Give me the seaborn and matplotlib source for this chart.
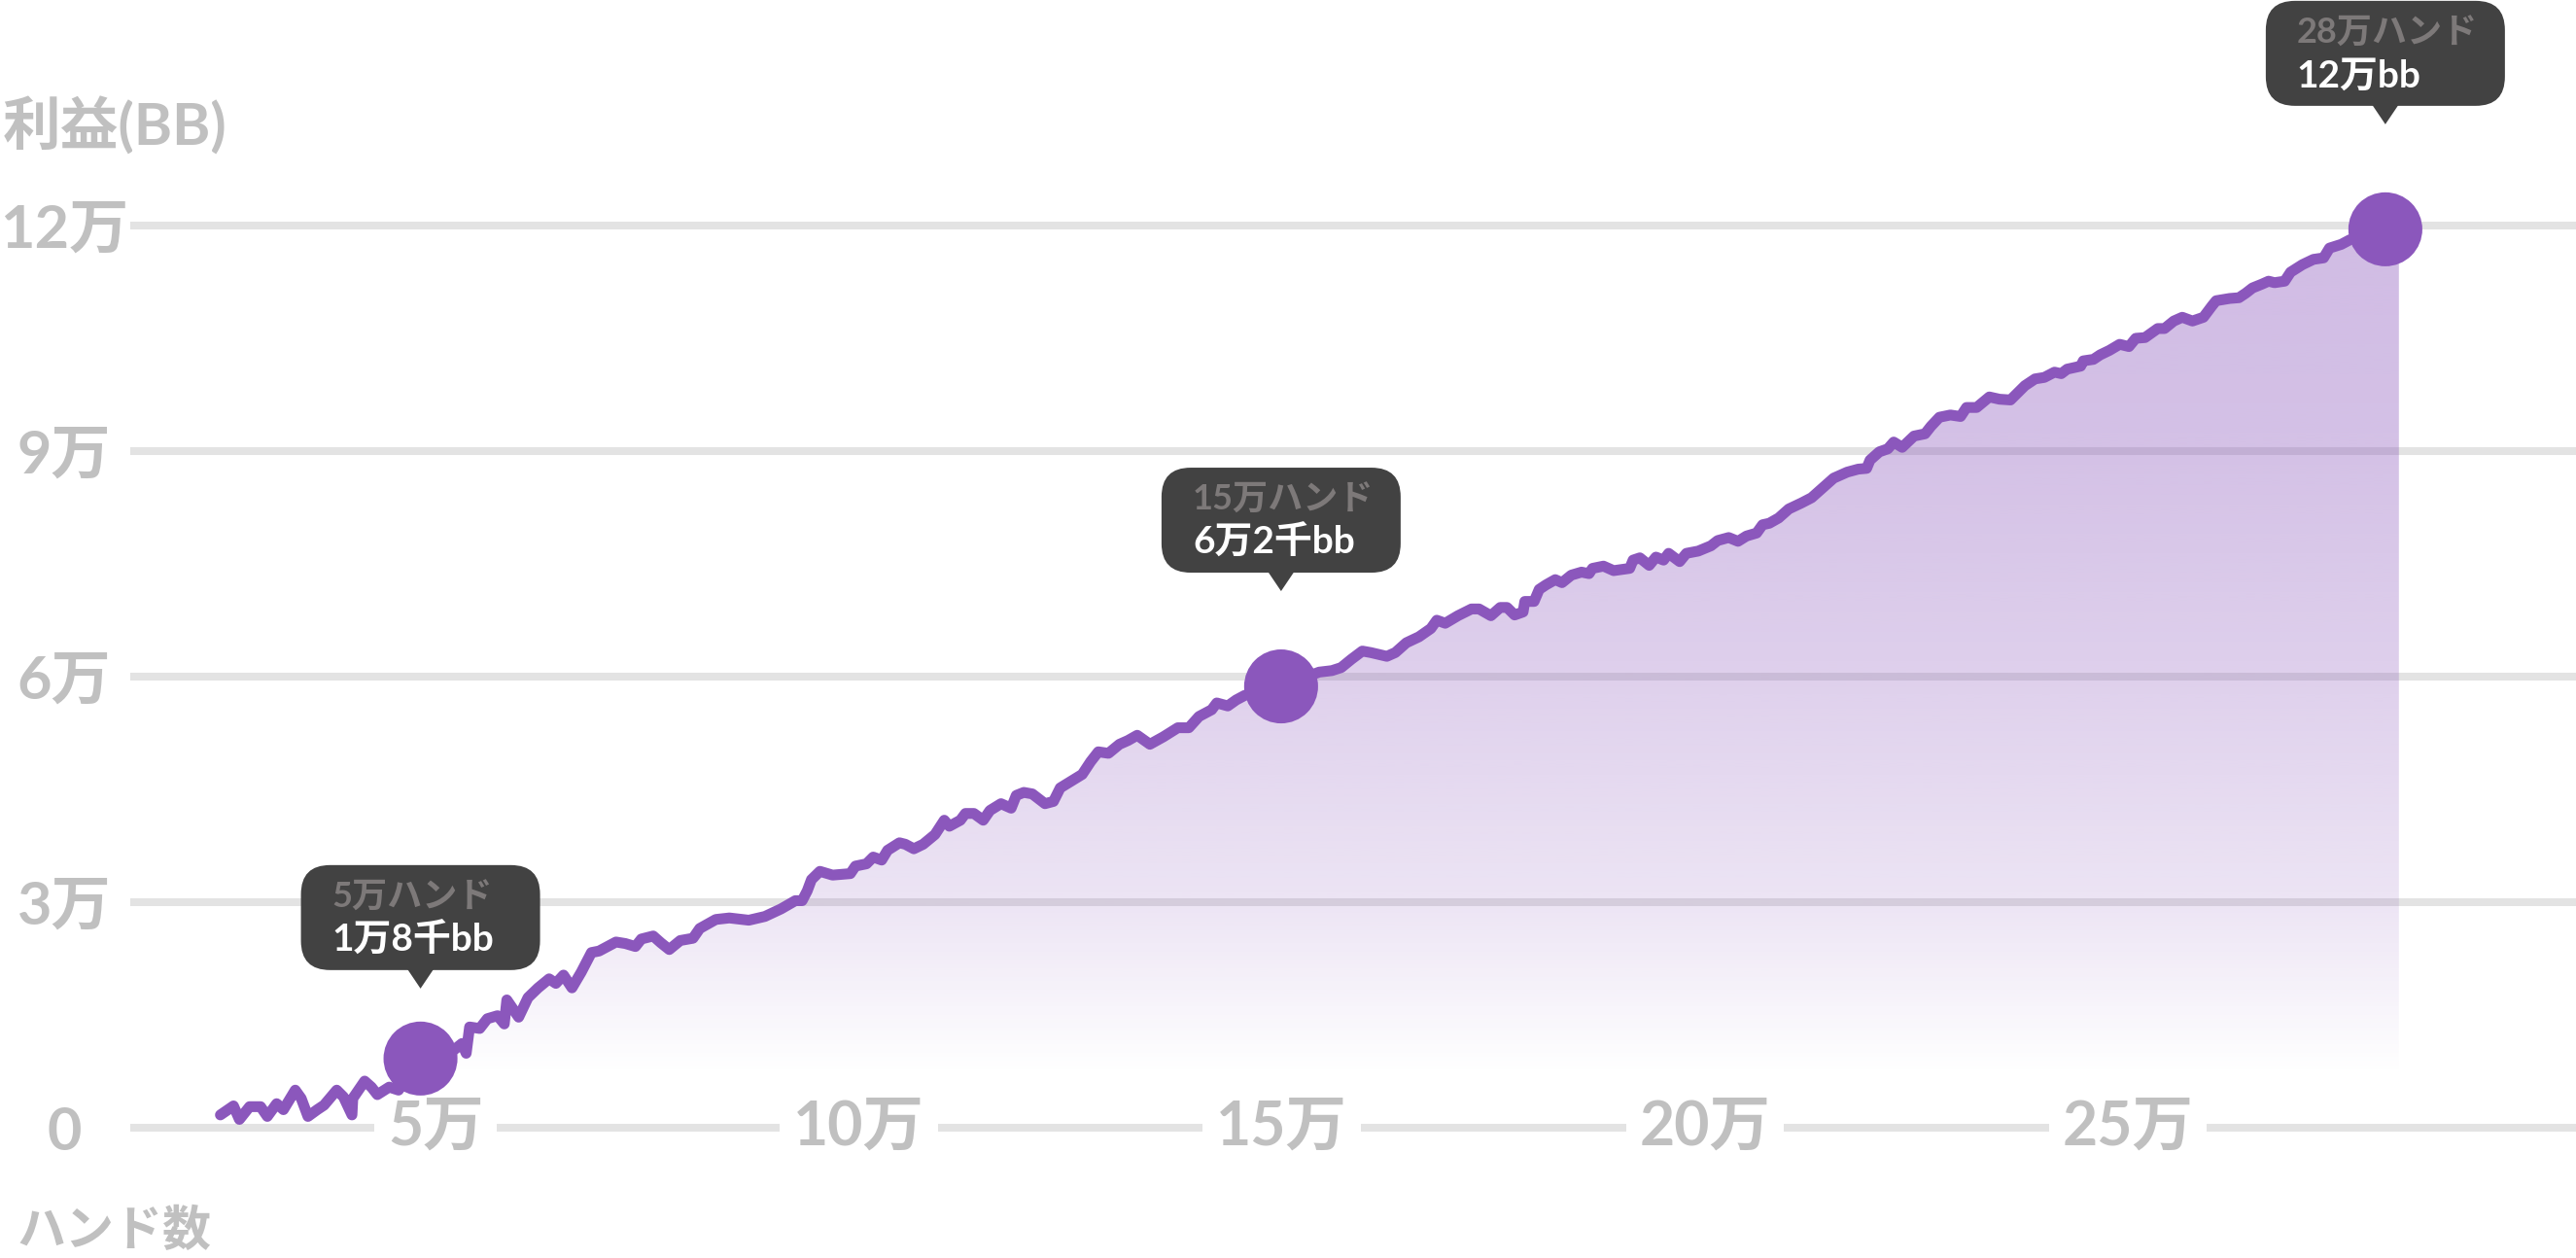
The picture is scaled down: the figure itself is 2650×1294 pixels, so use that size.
import numpy as np
import pandas as pd
import matplotlib
matplotlib.use("Agg")
import matplotlib.pyplot as plt
import seaborn as sns
from matplotlib.colors import to_rgb
from matplotlib.patches import FancyBboxPatch, Polygon

# values in units of 万 (10,000): hands played and profit in bb
hands = [
    2.455, 2.61, 2.68, 2.80, 2.93, 3.01, 3.12, 3.20, 3.34, 3.41,
    3.49, 3.60, 3.68, 3.83, 3.91, 4.01, 4.02, 4.16, 4.24, 4.31,
    4.45, 4.56, 4.82, 5.21, 5.31, 5.36, 5.40, 5.52, 5.61, 5.73,
    5.81, 5.84, 5.98, 6.09, 6.21, 6.34, 6.42, 6.51, 6.61, 6.72,
    6.84, 6.93, 7.13, 7.24, 7.36, 7.43, 7.57, 7.66, 7.76, 7.89,
    8.04, 8.12, 8.31, 8.47, 8.70, 8.89, 9.08, 9.25, 9.33, 9.39,
    9.44, 9.54, 9.69, 9.90, 9.96, 10.09, 10.17, 10.27, 10.34, 10.48,
    10.55, 10.65, 10.76, 10.90, 11.01, 11.07, 11.20, 11.26, 11.36, 11.47,
    11.55, 11.68, 11.80, 11.86, 11.95, 12.05, 12.20, 12.30, 12.38, 12.64,
    12.74, 12.83, 12.95, 13.08, 13.18, 13.29, 13.44, 13.60, 13.77, 13.90,
    14.02, 14.17, 14.23, 14.36, 14.46, 14.56, 14.99, 15.44, 15.59, 15.70,
    15.82, 15.95, 16.05, 16.24, 16.34, 16.47, 16.62, 16.76, 16.83, 16.93,
    17.08, 17.24, 17.33, 17.47, 17.58, 17.66, 17.75, 17.85, 17.87, 17.98,
    18.04, 18.12, 18.23, 18.31, 18.42, 18.54, 18.63, 18.67, 18.80, 18.92,
    19.11, 19.15, 19.23, 19.34, 19.42, 19.51, 19.57, 19.70, 19.78, 19.92,
    20.07, 20.15, 20.28, 20.39, 20.49, 20.61, 20.68, 20.76, 20.87, 20.99,
    21.14, 21.26, 21.37, 21.52, 21.68, 21.81, 21.91, 21.95, 22.06, 22.16,
    22.23, 22.33, 22.47, 22.60, 22.67, 22.77, 22.90, 23.02, 23.09, 23.21,
    23.36, 23.48, 23.61, 23.78, 23.90, 24.01, 24.13, 24.21, 24.28, 24.44,
    24.47, 24.59, 24.67, 24.78, 24.90, 25.01, 25.09, 25.20, 25.35, 25.43,
    25.54, 25.64, 25.76, 25.89, 25.99, 26.04, 26.20, 26.31, 26.39, 26.47,
    26.58, 26.66, 26.73, 26.85, 26.92, 27.06, 27.19, 27.31, 27.38, 27.52,
    27.62, 28.04, 28.20,
]
profit = [
    0.17, 0.29, 0.11, 0.28, 0.28, 0.15, 0.32, 0.24, 0.50, 0.39,
    0.15, 0.24, 0.30, 0.50, 0.41, 0.17, 0.39, 0.62, 0.54, 0.44,
    0.54, 0.50, 0.92, 1.03, 1.12, 0.99, 1.34, 1.32, 1.45, 1.49,
    1.38, 1.70, 1.47, 1.73, 1.86, 1.98, 1.92, 2.03, 1.86, 2.07,
    2.33, 2.35, 2.47, 2.45, 2.41, 2.51, 2.55, 2.46, 2.37, 2.49,
    2.52, 2.65, 2.77, 2.79, 2.76, 2.81, 2.91, 3.02, 3.02, 3.15,
    3.30, 3.41, 3.36, 3.38, 3.48, 3.51, 3.60, 3.56, 3.69, 3.79,
    3.77, 3.71, 3.77, 3.90, 4.09, 4.01, 4.09, 4.18, 4.18, 4.09,
    4.22, 4.31, 4.25, 4.42, 4.46, 4.44, 4.31, 4.34, 4.52, 4.70,
    4.87, 5.00, 4.98, 5.10, 5.15, 5.22, 5.10, 5.20, 5.32, 5.32,
    5.47, 5.56, 5.65, 5.61, 5.69, 5.75, 5.87, 6.06, 6.08, 6.12,
    6.23, 6.34, 6.32, 6.27, 6.32, 6.45, 6.53, 6.64, 6.75, 6.71,
    6.81, 6.90, 6.90, 6.81, 6.92, 6.92, 6.82, 6.86, 7.00, 7.00,
    7.16, 7.22, 7.29, 7.25, 7.35, 7.39, 7.37, 7.44, 7.47, 7.41,
    7.44, 7.55, 7.58, 7.48, 7.59, 7.55, 7.64, 7.53, 7.64, 7.67,
    7.74, 7.81, 7.85, 7.80, 7.87, 7.91, 8.02, 8.04, 8.11, 8.23,
    8.31, 8.38, 8.49, 8.64, 8.72, 8.76, 8.77, 8.88, 8.99, 9.03,
    9.12, 9.05, 9.20, 9.23, 9.33, 9.45, 9.48, 9.46, 9.58, 9.58,
    9.72, 9.69, 9.68, 9.87, 9.96, 9.98, 10.05, 10.03, 10.09, 10.13,
    10.20, 10.22, 10.28, 10.34, 10.42, 10.39, 10.50, 10.51, 10.63, 10.63,
    10.73, 10.78, 10.73, 10.78, 10.93, 11.00, 11.03, 11.04, 11.10, 11.17,
    11.22, 11.26, 11.24, 11.26, 11.38, 11.48, 11.55, 11.57, 11.70, 11.75,
    11.81, 11.95, 11.95,
]

marker_hands = [4.82, 14.99, 28.04]
marker_profit = [0.92, 5.87, 11.95]
tip_titles = ["5万ハンド", "15万ハンド", "28万ハンド"]
tip_values = ["1万8千bb", "6万2千bb", "12万bb"]

y_ticks = [0, 3, 6, 9, 12]
y_tick_labels = ["0", "3万", "6万", "9万", "12万"]
x_ticks = [5, 10, 15, 20, 25]
x_tick_labels = ["5万", "10万", "15万", "20万", "25万"]

PURPLE = "#8b57bc"
GREY = "#c0c0c0"
W, H, DPI = 2650, 1294, 100

sns.set_theme(style="white")
plt.rcParams["font.family"] = ["Lato", "Noto Sans CJK JP", "DejaVu Sans"]

fig = plt.figure(figsize=(W / DPI, H / DPI), dpi=DPI)
ax = fig.add_axes([134 / W, 0, 1 - 134 / W, 1])

df = pd.DataFrame({"hands": hands, "profit": profit})

# gradient fill under the curve
poly = ax.fill_between(df["hands"], df["profit"], 0, facecolor="none", edgecolor="none")
grad_y = np.linspace(0, 12, 300)
alpha = np.interp(grad_y, [0, 0.7, 3, 6, 9, 12], [0, 0.0, 0.16, 0.28, 0.37, 0.40])
rgba = np.zeros((300, 1, 4))
rgba[..., :3] = to_rgb(PURPLE)
rgba[..., 3] = alpha[:, None]
im = ax.imshow(rgba, extent=[hands[0], hands[-1], 0, 12], origin="lower",
               aspect="auto", zorder=1, interpolation="bilinear")
im.set_clip_path(poly.get_paths()[0], transform=ax.transData)

sns.lineplot(data=df, x="hands", y="profit", ax=ax, color=PURPLE, lw=8,
             estimator=None, sort=False, zorder=4,
             solid_capstyle="round", solid_joinstyle="round")
sns.scatterplot(x=marker_hands, y=marker_profit, ax=ax, s=3000, color=PURPLE,
                edgecolor="none", linewidth=0, zorder=5, legend=False)

ax.set_xlim(1.39, 30.293)
ax.set_ylim(-1.733, 15.0)
ax.set_xlabel("")
ax.set_ylabel("")
ax.set_xticks([])
ax.set_yticks(y_ticks)
ax.set_yticklabels(y_tick_labels, ha="center", fontweight="bold")
ax.tick_params(axis="y", length=0, pad=49, labelsize=44, labelcolor=GREY)
ax.yaxis.grid(True, color="#e3e3e3", lw=5.8)
ax.set_axisbelow(True)
sns.despine(ax=ax, left=True, bottom=True)

for xv, lab in zip(x_ticks, x_tick_labels):
    ax.text(xv, 0, lab, ha="center", va="center", fontsize=45, color=GREY,
            fontweight="bold", zorder=3,
            bbox=dict(boxstyle="square,pad=0.22", fc="white", ec="none"))

# tooltips, built in pixel units
tip_gap = [72, 98, 108]
box_w, box_h, arrow_h, arrow_w = 246, 108, 19, 27
tr = fig.dpi_scale_trans
for mx, my, gap, t1, t2 in zip(marker_hands, marker_profit, tip_gap, tip_titles, tip_values):
    px, py = ax.transData.transform((mx, my))
    tip_y = py + gap
    bottom = tip_y + arrow_h
    left = px - box_w / 2
    top = bottom + box_h
    fig.patches.append(FancyBboxPatch((left / DPI, bottom / DPI), box_w / DPI, box_h / DPI,
                                      boxstyle="round,pad=0,rounding_size=0.3",
                                      fc="#424242", ec="none", transform=tr))
    fig.patches.append(Polygon([((px - arrow_w / 2) / DPI, (bottom + 1) / DPI),
                                ((px + arrow_w / 2) / DPI, (bottom + 1) / DPI),
                                (px / DPI, tip_y / DPI)],
                               closed=True, fc="#424242", ec="none", transform=tr))
    fig.text((left + 32) / DPI, (top - 33) / DPI, t1, transform=tr, ha="left", va="center",
             fontsize=26, color="#7d7979", fontweight="bold")
    fig.text((left + 32) / DPI, (top - 77) / DPI, t2, transform=tr, ha="left", va="center",
             fontsize=28, color="white", fontweight="bold")

fig.text(3 / W, 1 - 130 / H, "利益(BB)", ha="left", va="center", fontsize=43,
         color=GREY, fontweight="bold")
fig.text(17 / W, 1 - 1265 / H, "ハンド数", ha="left", va="center", fontsize=36,
         color=GREY, fontweight="bold")

fig.savefig("out.png", dpi=DPI)
